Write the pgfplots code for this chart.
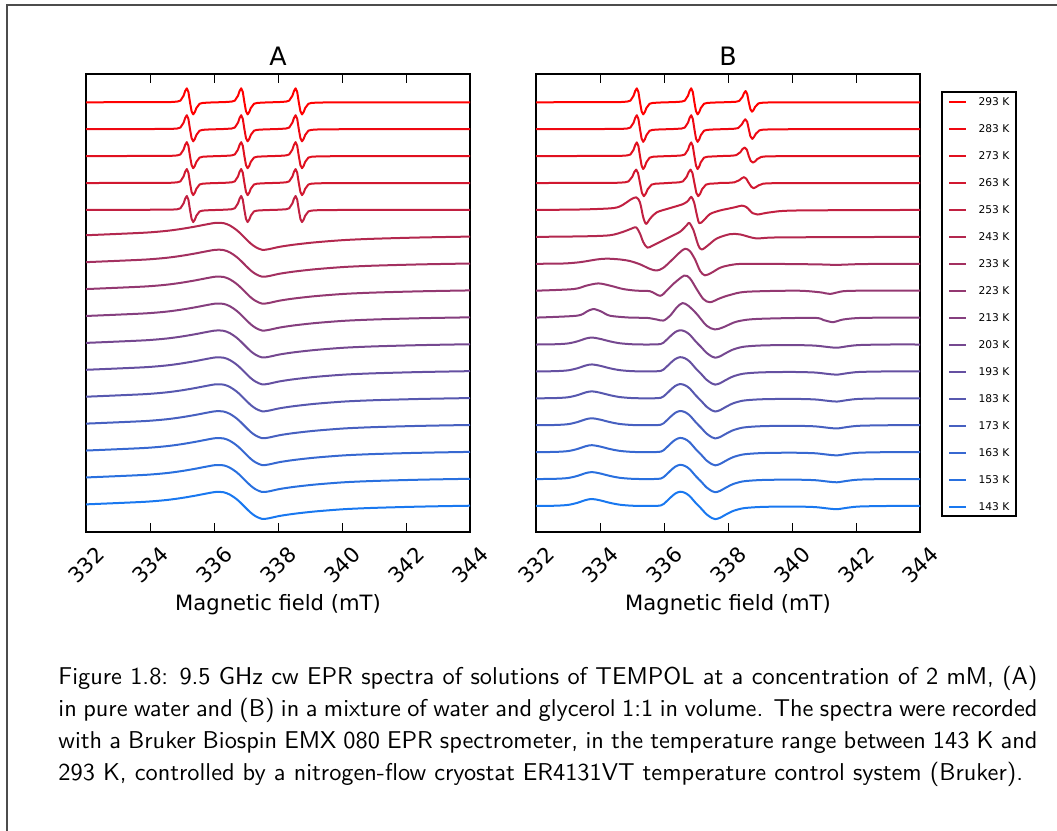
\documentclass[border=0pt]{standalone}
\usepackage{fontspec}
\setmainfont{DejaVu Sans}
\usepackage{graphicx}
\usepackage{pgfplots}
\usepackage{pgfplotstable}
\pgfplotsset{compat=1.18}

\definecolor{cR}{RGB}{255,0,0}
\definecolor{cB}{RGB}{25,120,240}

% panel A, 293-253 K: three narrow lines
\pgfplotstableread{
x y
332.00 0
334.65 0.010
334.85 0.026
334.95 0.062
335.05 0.244
335.10 0.421
335.15 0.520
335.20 0.385
335.25 0
335.30 -0.333
335.35 -0.450
335.40 -0.365
335.45 -0.212
335.55 -0.054
335.65 -0.023
335.85 -0.009
336.35 0.010
336.55 0.026
336.65 0.062
336.75 0.244
336.80 0.421
336.85 0.520
336.90 0.385
336.95 0
337.00 -0.333
337.05 -0.450
337.10 -0.365
337.15 -0.212
337.25 -0.054
337.35 -0.023
337.55 -0.009
338.05 0.010
338.25 0.026
338.35 0.062
338.45 0.244
338.50 0.421
338.55 0.520
338.60 0.385
338.65 0
338.70 -0.333
338.75 -0.450
338.80 -0.365
338.85 -0.212
338.95 -0.054
339.05 -0.023
339.25 -0.009
340.00 0
344.00 0
}\Asharp

% panel A, 243-143 K: frozen water, one broad line
\pgfplotstableread{
x y
332.00 0.06
333.00 0.11
333.90 0.16
334.50 0.22
334.95 0.29
335.40 0.38
335.75 0.46
336.05 0.52
336.30 0.51
336.50 0.42
336.70 0.26
336.85 0.10
337.00 -0.08
337.15 -0.25
337.30 -0.38
337.50 -0.48
337.70 -0.46
338.05 -0.37
338.50 -0.29
339.10 -0.21
339.70 -0.15
340.20 -0.11
341.00 -0.07
342.20 -0.03
343.00 -0.01
344.00 0.01
}\Abroad

% panel B
\pgfplotstableread{
x y
332.00 0
334.65 0.010
334.85 0.026
334.95 0.062
335.05 0.244
335.10 0.421
335.15 0.520
335.20 0.385
335.25 0
335.30 -0.333
335.35 -0.450
335.40 -0.365
335.45 -0.212
335.55 -0.054
335.65 -0.023
335.85 -0.009
336.35 0.010
336.55 0.026
336.65 0.062
336.75 0.244
336.80 0.421
336.85 0.520
336.90 0.385
336.95 0
337.00 -0.333
337.05 -0.450
337.10 -0.365
337.15 -0.212
337.25 -0.054
337.35 -0.023
337.55 -0.009
338.05 0.008
338.25 0.021
338.35 0.050
338.45 0.197
338.50 0.340
338.55 0.420
338.60 0.311
338.65 0
338.70 -0.259
338.75 -0.350
338.80 -0.284
338.85 -0.165
338.95 -0.042
339.05 -0.018
339.25 -0.007
340.00 0
344.00 0
}\Bzero

\pgfplotstableread{
x y
332.00 0
334.65 0.010
334.85 0.026
334.95 0.062
335.05 0.244
335.10 0.421
335.15 0.520
335.20 0.385
335.25 0
335.30 -0.348
335.35 -0.470
335.40 -0.381
335.45 -0.221
335.55 -0.056
335.65 -0.024
335.85 -0.009
336.35 0.010
336.55 0.026
336.65 0.062
336.75 0.244
336.80 0.421
336.85 0.520
336.90 0.385
336.95 0
337.00 -0.348
337.05 -0.470
337.10 -0.381
337.15 -0.221
337.25 -0.056
337.35 -0.024
337.55 -0.009
337.99 0.007
338.21 0.019
338.32 0.044
338.43 0.174
338.49 0.300
338.54 0.370
338.60 0.274
338.65 0
338.70 -0.266
338.76 -0.360
338.81 -0.292
338.87 -0.169
338.98 -0.043
339.09 -0.018
339.31 -0.007
340.00 0
344.00 0
}\Bone

\pgfplotstableread{
x y
332.00 0
334.65 0.010
334.85 0.026
334.95 0.061
335.05 0.240
335.10 0.413
335.15 0.510
335.20 0.377
335.25 0
335.30 -0.355
335.35 -0.480
335.40 -0.389
335.45 -0.226
335.55 -0.058
335.65 -0.024
335.85 -0.010
336.35 0.010
336.55 0.026
336.65 0.061
336.75 0.240
336.80 0.413
336.85 0.510
336.90 0.377
336.95 0
337.00 -0.355
337.05 -0.480
337.10 -0.389
337.15 -0.226
337.25 -0.058
337.35 -0.024
337.55 -0.010
337.87 0.006
338.13 0.016
338.26 0.038
338.39 0.150
338.45 0.259
338.52 0.320
338.59 0.237
338.65 0
338.71 -0.178
338.78 -0.240
338.85 -0.194
338.91 -0.113
339.04 -0.029
339.17 -0.012
339.43 -0.005
340.00 0
344.00 0
}\Btwo

\pgfplotstableread{
x y
332.00 0
334.53 0.010
334.77 0.025
334.89 0.060
335.01 0.235
335.07 0.405
335.13 0.500
335.19 0.370
335.25 0
335.31 -0.363
335.37 -0.490
335.43 -0.397
335.49 -0.230
335.61 -0.059
335.73 -0.025
335.97 -0.010
336.23 0.010
336.47 0.025
336.59 0.060
336.71 0.235
336.77 0.405
336.83 0.500
336.89 0.370
336.95 0
337.01 -0.363
337.07 -0.490
337.13 -0.397
337.19 -0.230
337.31 -0.059
337.43 -0.025
337.67 -0.010
337.75 0.004
338.05 0.011
338.20 0.026
338.35 0.103
338.43 0.178
338.50 0.220
338.57 0.163
338.65 0
338.73 -0.141
338.80 -0.190
338.87 -0.154
338.95 -0.089
339.10 -0.023
339.25 -0.010
339.55 -0.004
340.50 0
344.00 0
}\Bthree

\pgfplotstableread{
x y
332.00 0
333.50 0.02
334.42 0.07
334.70 0.18
334.83 0.28
334.99 0.41
335.13 0.47
335.20 0.40
335.25 0.28
335.30 0.02
335.35 -0.27
335.44 -0.52
335.56 -0.33
335.77 -0.09
336.19 0.07
336.60 0.22
336.76 0.35
336.85 0.49
336.94 0.28
337.02 -0.15
337.10 -0.49
337.23 -0.40
337.44 -0.15
337.75 -0.02
338.06 0.06
338.25 0.11
338.43 0.16
338.58 0.10
338.77 -0.12
338.92 -0.17
339.31 -0.09
340.15 -0.02
344.00 0
}\Bfour

\pgfplotstableread{
x y
332.00 0
333.50 0.02
334.31 0.06
334.73 0.19
334.99 0.31
335.13 0.35
335.25 0.12
335.35 -0.19
335.48 -0.40
335.67 -0.31
336.19 0.00
336.50 0.19
336.71 0.43
336.79 0.52
336.92 0.25
337.07 -0.31
337.18 -0.47
337.38 -0.31
337.65 -0.06
338.06 0.10
338.38 0.09
338.90 -0.06
339.63 -0.02
344.00 0
}\Bfive

\pgfplotstableread{
x y
332.00 0
332.85 0.01
333.38 0.06
333.90 0.16
334.21 0.19
334.63 0.16
334.94 0.10
335.25 -0.02
335.56 -0.19
335.77 -0.25
335.98 -0.15
336.29 0.19
336.50 0.43
336.66 0.56
336.81 0.47
336.97 0.16
337.13 -0.27
337.28 -0.43
337.49 -0.33
337.75 -0.15
338.06 -0.05
338.58 0
340.67 -0.02
341.40 -0.04
342.23 -0.01
344.00 0
}\Bsix

\pgfplotstableread{
x y
332.00 0
333.17 0.06
333.58 0.19
333.95 0.27
334.31 0.19
334.73 0.06
335.15 0
335.56 -0.02
335.88 -0.19
336.08 0
336.29 0.25
336.63 0.56
336.81 0.46
337.02 0.06
337.23 -0.31
337.44 -0.43
337.75 -0.28
338.06 -0.16
338.58 -0.04
340.15 0
340.88 -0.06
341.19 -0.12
341.60 -0.02
342.23 0
344.00 0
}\Bseven

\pgfplotstableread{
x y
332.00 0
333.27 0.07
333.58 0.22
333.79 0.32
334.05 0.22
334.31 0.07
334.94 0
335.46 -0.01
335.77 -0.07
335.98 -0.11
336.19 0.07
336.40 0.38
336.58 0.54
336.76 0.44
337.02 0.14
337.33 -0.30
337.59 -0.44
337.85 -0.36
338.27 -0.15
338.90 -0.05
340.67 -0.01
340.98 -0.09
341.29 -0.17
341.60 -0.07
342.23 -0.01
344.00 0
}\Beight

% panel B, 203-143 K: rigid limit powder spectrum
\pgfplotstableread{
x y
332.00 0.00
332.60 0.01
333.00 0.04
333.30 0.12
333.55 0.22
333.75 0.26
334.00 0.21
334.30 0.12
334.60 0.05
335.00 0.01
335.50 0.00
335.90 0.02
336.05 0.14
336.20 0.31
336.35 0.46
336.50 0.53
336.65 0.49
336.80 0.37
337.00 0.10
337.15 -0.08
337.33 -0.31
337.50 -0.45
337.60 -0.49
337.75 -0.44
337.90 -0.34
338.15 -0.19
338.45 -0.09
338.80 -0.05
339.20 -0.03
340.00 -0.02
340.70 -0.04
341.10 -0.09
341.40 -0.12
341.70 -0.07
342.10 -0.02
343.00 0.00
344.00 0.00
}\Blow

% #1 offset, #2 blue share, #3 table, #4 extra style
\newcommand{\trace}[4]{\addplot[cB!#2!cR,#4] table[x=x,y expr=\thisrow{y}-#1]{#3};}
% caption lines
\newcommand{\capfont}{\sffamily\fontsize{10.95}{13}\selectfont}
\newcommand{\capline}[2]{\node[anchor=base west, inner sep=0pt, font=\capfont] at (26.1pt,#1) {#2};}

\pgfplotsset{
  panel/.style={
    scale only axis, width=172.8pt, height=206.1pt,
    xmin=332, xmax=344, ymin=-15.967, ymax=1.052,
    xtick={332,334,...,344}, ytick=\empty,
    xtick pos=both, xticklabel pos=lower, tick align=inside,
    major tick length=3.9pt,
    every tick/.style={black, line width=0.45pt},
    axis line style={line width=0.9pt},
    /pgf/number format/assume math mode=true,
    xticklabel={\rotatebox{45}{\pgfmathprintnumber{\tick}}},
    xticklabel style={anchor=north, inner sep=0pt, yshift=-5.8pt,
      font=\fontsize{9.5}{11}\selectfont},
    xlabel={Magnetic field (mT)},
    xlabel style={at={(axis description cs:0.5,0)}, anchor=base,
      yshift=-35.5pt, font=\fontsize{9.5}{11}\selectfont},
    every axis title shift=0pt,
    title style={at={(axis description cs:0.5,1)}, anchor=base,
      yshift=4pt, font=\fontsize{11.4}{13}\selectfont},
    every axis plot/.append style={line width=0.9pt, line join=round},
  }
}

\begin{document}
\begin{tikzpicture}
\useasboundingbox (0,0) rectangle (475.65pt,-373.95pt);
\draw[black!70, line width=0.7pt] (3.15pt,-380pt) -- (3.15pt,-2.25pt) -- (480pt,-2.25pt);

\begin{axis}[panel, at={(38.7pt,-33.3pt)}, anchor=north west, title={A}]
\trace{0}{0}{\Asharp}{}
\trace{1}{7}{\Asharp}{}
\trace{2}{13}{\Asharp}{}
\trace{3}{20}{\Asharp}{}
\trace{4}{27}{\Asharp}{}
\trace{5}{33}{\Abroad}{smooth}
\trace{6}{40}{\Abroad}{smooth}
\trace{7}{47}{\Abroad}{smooth}
\trace{8}{53}{\Abroad}{smooth}
\trace{9}{60}{\Abroad}{smooth}
\trace{10}{67}{\Abroad}{smooth}
\trace{11}{73}{\Abroad}{smooth}
\trace{12}{80}{\Abroad}{smooth}
\trace{13}{87}{\Abroad}{smooth}
\trace{14}{93}{\Abroad}{smooth}
\trace{15}{100}{\Abroad}{smooth}
\end{axis}

\begin{axis}[panel, at={(241.2pt,-33.3pt)}, anchor=north west, title={B},
  legend style={at={(1.0547,0.9629)}, anchor=north west, draw=black,
    line width=0.9pt, font=\fontsize{4.8}{5}\selectfont,
    inner xsep=2.8pt, inner ysep=2.6pt, row sep=8.65pt, column sep=5.1pt,
    nodes={inner sep=0pt, text height=3.5pt, text depth=0pt}},
  legend cell align=left,
  legend image code/.code={\draw[#1] (0pt,0pt) -- (7.65pt,0pt);}]
\trace{0}{0}{\Bzero}{}
\trace{1}{7}{\Bone}{}
\trace{2}{13}{\Btwo}{}
\trace{3}{20}{\Bthree}{}
\trace{4}{27}{\Bfour}{smooth}
\trace{5}{33}{\Bfive}{smooth}
\trace{6}{40}{\Bsix}{smooth}
\trace{7}{47}{\Bseven}{smooth}
\trace{8}{53}{\Beight}{smooth}
\trace{9}{60}{\Blow}{smooth}
\trace{10}{67}{\Blow}{smooth}
\trace{11}{73}{\Blow}{smooth}
\trace{12}{80}{\Blow}{smooth}
\trace{13}{87}{\Blow}{smooth}
\trace{14}{93}{\Blow}{smooth}
\trace{15}{100}{\Blow}{smooth}
\legend{293 K,283 K,273 K,263 K,253 K,243 K,233 K,223 K,213 K,203 K,193 K,183 K,173 K,163 K,153 K,143 K}
\end{axis}

\capline{-308pt}{\makebox[440.55pt][s]{Figure 1.8: 9.5 GHz cw EPR spectra of solutions of TEMPOL at a concentration of 2 mM, (A)}}
\capline{-322.4pt}{\makebox[440.55pt][s]{in pure water and (B) in a mixture of water and glycerol 1:1 in volume. The spectra were recorded}}
\capline{-336.8pt}{\makebox[440.55pt][s]{with a Bruker Biospin EMX 080 EPR spectrometer, in the temperature range between 143 K and}}
\capline{-351.2pt}{293 K, controlled by a nitrogen-flow cryostat ER4131VT temperature control system (Bruker).}
\end{tikzpicture}
\end{document}
